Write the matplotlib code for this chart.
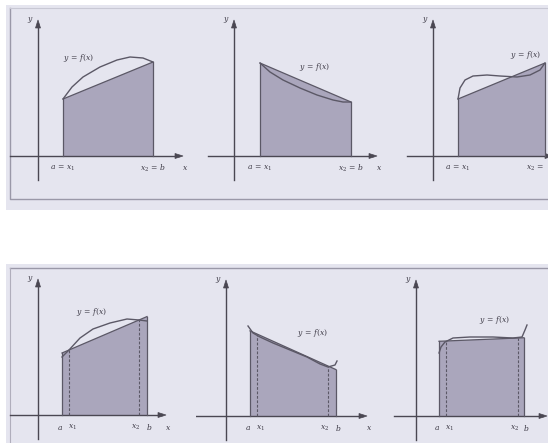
import matplotlib
matplotlib.use("Agg")
import matplotlib.pyplot as plt
from matplotlib.patches import Rectangle, Polygon

plt.rcParams["mathtext.fontset"] = "dejavuserif"

W, H = 548, 443
DPI = 100

# ---------------- data (values relative to each panel's axis origin) ----------------
# Top row: trapezoidal rule (chord from a to b)
top_a = [25, 26, 25]
top_b = [115, 117, 112]
top_curve_x = [
    [25, 34, 45, 62, 79, 92, 105, 115],
    [26, 36, 49, 66, 83, 99, 109, 117],
    [25, 27, 32, 40, 54, 67, 84, 97, 107, 112],
]
top_curve_y = [
    [57, 69, 79, 89, 96, 99, 98, 94],
    [93, 84, 76, 68, 61, 56, 54, 54],
    [57, 68, 76, 80, 81, 80, 79, 81, 86, 93],
]
top_left_labels = [r"$a\,=\,x_1$", r"$a\,=\,x_1$", r"$a\,=\,x_1$"]
top_right_labels = [r"$x_2\,=\,b$", r"$x_2\,=\,b$", r"$x_2\,=$"]

# Bottom row: line through (x1, f(x1)) and (x2, f(x2)), extended to a and b
bot_a = [24, 24, 23]
bot_x1 = [31, 31, 30]
bot_x2 = [101, 102, 102]
bot_b = [109, 110, 108]
bot_fx1 = [65, 82, 75]
bot_fx2 = [95, 50, 78]
bot_curve_x = [
    [24, 31, 42, 55, 72, 89, 101, 109],
    [22, 27, 34, 47, 64, 81, 94, 102, 109, 111],
    [23, 25, 29, 37, 54, 77, 97, 106, 109, 111],
]
bot_curve_y = [
    [58, 65, 77, 86, 92, 96, 95, 94],
    [90, 83, 79, 73, 66, 59, 52, 49, 51, 55],
    [63, 69, 74, 78, 79, 79, 78, 79, 86, 91],
]
func_label = r"$y\,=\,f(x)$"
func_label_pos = [(40, 98), (80, 89), (92, 101), (53, 103), (86, 83), (78, 96)]

# ---------------- layout (pixels) ----------------
top_origins = [(38, 156), (234, 156), (433, 156)]
bot_origins = [(38, 415), (226, 416), (416, 416)]

BG = "#e5e5ef"
FILL = "#aaa6bc"
LINE = "#5b5866"
AX = "#4a4752"
TXT = "#3f3c48"

fig = plt.figure(figsize=(W / DPI, H / DPI), dpi=DPI)
base = fig.add_axes([0, 0, 1, 1])
base.set_xlim(0, W)
base.set_ylim(H, 0)
base.axis("off")

# panel backgrounds
base.add_patch(Rectangle((6, 5), W - 6, 205, facecolor=BG, edgecolor="none"))
base.plot([10, 10, W], [8, 199, 199], color="#9a98a8", lw=1.0)
base.plot([10, W], [8, 8], color="#c8c8d4", lw=0.8)
base.add_patch(Rectangle((6, 264), W - 6, H - 264, facecolor=BG, edgecolor="none"))
base.plot([10, W], [268, 268], color="#9a98a8", lw=1.0)
base.plot([10, 10], [268, H], color="#b0aebc", lw=0.8)


def make_panel(origin):
    ox, oy = origin
    left, right = -30, 150
    bottom, top = -30, 140
    x0 = (ox + left) / W
    y0 = (H - (oy - bottom)) / H
    w = (right - left) / W
    h = (top - bottom) / H
    ax = fig.add_axes([x0, y0, w, h])
    ax.set_xlim(left, right)
    ax.set_ylim(bottom, top)
    ax.axis("off")
    ax.patch.set_alpha(0)
    return ax


txt_kw = dict(fontsize=5.5, color=TXT, ha="center", va="center")


def draw_axes(ax, xl, xr):
    ax.plot([0, 0], [-24, 132], color=AX, lw=1.0)
    ax.plot([xl, xr - 4], [0, 0], color=AX, lw=1.0)
    ax.add_patch(Polygon([[xr, 0], [xr - 8, 2.5], [xr - 8, -2.5]], closed=True,
                         facecolor=AX, edgecolor=AX, lw=0.5))
    ax.add_patch(Polygon([[0, 136], [-2.5, 128], [2.5, 128]], closed=True,
                         facecolor=AX, edgecolor=AX, lw=0.5))
    ax.text(-8, 136, r"$y$", **txt_kw)


# ---------------- top row ----------------
top_xr = [145, 143, 120]
top_xl = [-28, -26, -26]
for i in range(3):
    ax = make_panel(top_origins[i])
    draw_axes(ax, top_xl[i], top_xr[i])
    a, b = top_a[i], top_b[i]
    cx, cy = top_curve_x[i], top_curve_y[i]
    fa, fb = cy[0], cy[-1]
    ax.add_patch(Polygon([[a, 0], [a, fa], [b, fb], [b, 0]], closed=True,
                         facecolor=FILL, edgecolor="none"))
    ax.plot([a, a], [0, fa], color=LINE, lw=0.9)
    ax.plot([b, b], [0, fb], color=LINE, lw=0.9)
    ax.plot([a, b], [fa, fb], color=LINE, lw=0.9)
    ax.plot(cx, cy, color=LINE, lw=1.0, solid_capstyle="round")
    ax.text(a, -12, top_left_labels[i], **txt_kw)
    if i < 2:
        ax.text(b, -12, top_right_labels[i], **txt_kw)
        ax.text(top_xr[i] + 2, -12, r"$x$", **txt_kw)
    else:
        ax.text(b - 1, -12, top_right_labels[i], fontsize=5.5, color=TXT,
                ha="right", va="center")
    lx, ly = func_label_pos[i]
    ax.text(lx, ly, func_label, **txt_kw)

# ---------------- bottom row ----------------
bot_xr = [128, 141, 131]
bot_xl = [-28, -44, -22]
for i in range(3):
    ax = make_panel(bot_origins[i])
    draw_axes(ax, bot_xl[i], bot_xr[i])
    a, b, x1, x2 = bot_a[i], bot_b[i], bot_x1[i], bot_x2[i]
    f1, f2 = bot_fx1[i], bot_fx2[i]
    slope = (f2 - f1) / (x2 - x1)
    la = f1 + slope * (a - x1)
    lb = f1 + slope * (b - x1)
    ax.add_patch(Polygon([[a, 0], [a, la], [b, lb], [b, 0]], closed=True,
                         facecolor=FILL, edgecolor="none"))
    ax.plot([a, a], [0, la], color=LINE, lw=0.9)
    ax.plot([b, b], [0, lb], color=LINE, lw=0.9)
    ax.plot([a, b], [la, lb], color=LINE, lw=0.9)
    ax.plot([x1, x1], [0, f1], color=LINE, lw=0.8, ls=(0, (2.5, 1.5)))
    ax.plot([x2, x2], [0, f2], color=LINE, lw=0.8, ls=(0, (2.5, 1.5)))
    ax.plot(bot_curve_x[i], bot_curve_y[i], color=LINE, lw=1.0)
    ax.text(a - 2, -12, r"$a$", **txt_kw)
    ax.text(x1 + 4, -12, r"$x_1$", **txt_kw)
    ax.text(x2 - 3, -12, r"$x_2$", **txt_kw)
    ax.text(b + 2, -12, r"$b$", **txt_kw)
    if i < 2:
        ax.text(bot_xr[i] + 2, -12, r"$x$", **txt_kw)
    lx, ly = func_label_pos[3 + i]
    ax.text(lx, ly, func_label, **txt_kw)

fig.savefig("out.png", dpi=DPI)
